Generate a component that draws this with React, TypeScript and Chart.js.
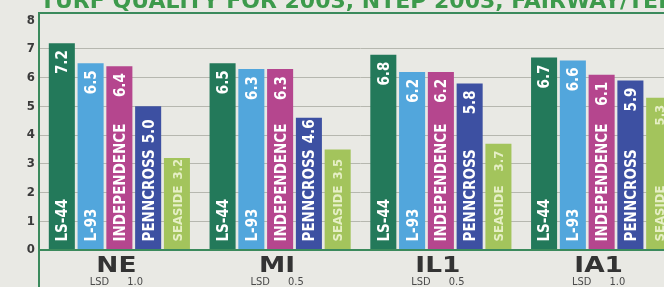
import { useEffect, useRef } from 'react';
import { Chart, registerables } from 'chart.js';
Chart.register(...registerables);

const titleText = 'TURF QUALITY FOR 2003, NTEP 2003, FAIRWAY/TEE';
const sites = ['NE', 'MI', 'IL1', 'IA1'];
const lsdValues = [1.0, 0.5, 0.5, 1.0];
const cultivars = ['LS-44', 'L-93', 'INDEPENDENCE', 'PENNCROSS', 'SEASIDE'];
const ls44 = [7.2, 6.5, 6.8, 6.7];
const l93 = [6.5, 6.3, 6.2, 6.6];
const independence = [6.4, 6.3, 6.2, 6.1];
const penncross = [5.0, 4.6, 5.8, 5.9];
const seaside = [3.2, 3.5, 3.7, 5.3];
const yTicks = [0, 1, 2, 3, 4, 5, 6, 7, 8];

const barColors = ['#23795a', '#52a6dc', '#b5468e', '#3d50a2', '#a3c45c'];
const textColors = ['#ffffff', '#ffffff', '#ffffff', '#ffffff', '#e6efc6'];
const textSizes = [15, 15, 15, 15, 13];
const COND = '"DejaVu Sans Condensed", "Liberation Sans Narrow", sans-serif';

const decor = {
  id: 'decor',
  afterDatasetsDraw(chart: any) {
    const ctx = chart.ctx;
    const { left, top, bottom } = chart.chartArea;
    // bar labels
    chart.data.datasets.forEach((ds: any, di: number) => {
      const meta = chart.getDatasetMeta(di);
      meta.data.forEach((bar: any, i: number) => {
        const v = ds.data[i];
        const p = bar.getProps(['x', 'y', 'base'], true);
        const h = p.base - p.y;
        const size = textSizes[di];
        ctx.save();
        ctx.translate(p.x, p.base);
        ctx.rotate(-Math.PI / 2);
        ctx.font = `bold ${size}px ${COND}`;
        ctx.fillStyle = textColors[di];
        ctx.textBaseline = 'alphabetic';
        const name = cultivars[di];
        const val = v.toFixed(1);
        const nw = ctx.measureText(name).width;
        const vw = ctx.measureText(val).width;
        const by = size * 0.36;
        const start = 8;
        const vEnd = h - 7;
        ctx.textAlign = 'left';
        ctx.fillText(name, start, by);
        if (vEnd - vw - (start + nw) < 13) {
          ctx.fillText(val, start + nw + 6, by);
        } else {
          ctx.textAlign = 'right';
          ctx.fillText(val, vEnd, by);
        }
        ctx.restore();
      });
    });
    // frame
    ctx.save();
    ctx.strokeStyle = '#3b8a5c';
    ctx.lineWidth = 2;
    ctx.beginPath();
    ctx.moveTo(left, chart.height + 2);
    ctx.lineTo(left, top);
    ctx.lineTo(chart.width + 2, top);
    ctx.moveTo(left, bottom);
    ctx.lineTo(chart.width + 2, bottom);
    ctx.stroke();
    // x labels
    const xs = chart.scales.x;
    sites.forEach((s, i) => {
      const cx = xs.getPixelForValue(i);
      ctx.save();
      ctx.fillStyle = '#333333';
      ctx.textAlign = 'center';
      ctx.textBaseline = 'alphabetic';
      ctx.font = 'bold 22px "DejaVu Sans", sans-serif';
      ctx.translate(cx - 3, 272);
      ctx.scale(1.2, 1);
      ctx.fillText(s, 0, 0);
      ctx.restore();
      ctx.font = `11px ${COND}`;
      ctx.fillStyle = '#4a4a4a';
      const a = 'LSD';
      const b = lsdValues[i].toFixed(1);
      const aw = ctx.measureText(a).width;
      const bw = ctx.measureText(b).width;
      const gap = 18;
      const x0 = cx - 3 - (aw + gap + bw) / 2;
      ctx.textAlign = 'left';
      ctx.fillText(a, x0, 285);
      ctx.fillText(b, x0 + aw + gap, 285);
    });
    // title (top cropped by the page edge)
    ctx.fillStyle = '#3d9a4c';
    ctx.font = 'bold 22px "DejaVu Sans", sans-serif';
    ctx.textAlign = 'left';
    ctx.textBaseline = 'alphabetic';
    ctx.fillText(titleText, 40, 8);
    ctx.restore();
  },
};

export default function App() {
  const ref = useRef<HTMLCanvasElement | null>(null);
  useEffect(() => {
    if (!ref.current) return;
    const series = [ls44, l93, independence, penncross, seaside];
    const chart = new Chart(ref.current, {
      type: 'bar',
      data: {
        labels: sites,
        datasets: cultivars.map((c, i) => ({
          label: c,
          data: series[i],
          backgroundColor: barColors[i],
          borderWidth: 0,
          categoryPercentage: 0.895,
          barPercentage: 0.905,
        })),
      },
      options: {
        animation: false,
        responsive: true,
        maintainAspectRatio: false,
        layout: { padding: { top: 13, bottom: 37, left: 0, right: 18 } },
        plugins: { legend: { display: false }, tooltip: { enabled: false }, title: { display: false } },
        scales: {
          x: { display: false },
          y: {
            min: 0,
            max: 8.25,
            afterBuildTicks: (s: any) => {
              s.ticks = yTicks.map((v) => ({ value: v }));
            },
            afterFit: (s: any) => {
              s.width = 39;
            },
            ticks: {
              padding: 4,
              color: '#3a3a3a',
              font: { family: COND, weight: 'bold', size: 13 },
            },
            grid: {
              drawTicks: false,
              lineWidth: 1,
              color: (c: any) =>
                c.tick && (c.tick.value === 0 || c.tick.value === 8) ? 'rgba(0,0,0,0)' : '#b6b7af',
            },
            border: { display: false },
          },
        },
      },
      plugins: [decor],
    });
    return () => chart.destroy();
  }, []);
  return (
    <div style={{ position: 'fixed', left: 0, top: 0, width: 664, height: 287, overflow: 'hidden', background: '#e9e9e4' }}>
      <div style={{ position: 'relative', width: 700, height: 287 }}>
        <canvas ref={ref} />
      </div>
    </div>
  );
}
